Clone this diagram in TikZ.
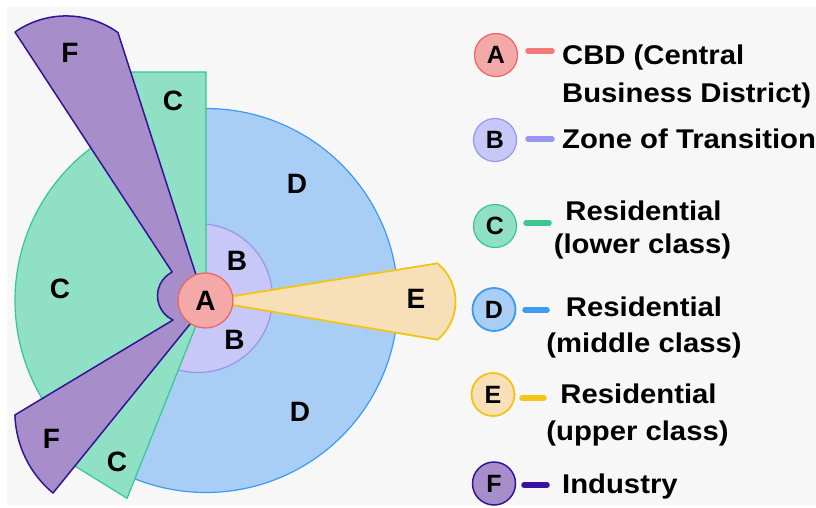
\documentclass[tikz,border=0pt]{standalone}
\usepackage{fontspec}
\setmainfont{Liberation Sans}
\newfontfamily\lgfont[FakeStretch=1.08]{Liberation Sans}
\usetikzlibrary{calc}
\definecolor{bgc}{RGB}{247,247,247}
\definecolor{Afill}{RGB}{245,168,168}
\definecolor{Adraw}{RGB}{238,98,98}
\definecolor{Bfill}{RGB}{200,200,248}
\definecolor{Bdraw}{RGB}{150,150,240}
\definecolor{Cfill}{RGB}{143,224,197}
\definecolor{Cdraw}{RGB}{52,200,145}
\definecolor{Dfill}{RGB}{168,206,246}
\definecolor{Ddraw}{RGB}{60,155,240}
\definecolor{Efill}{RGB}{247,224,184}
\definecolor{Edraw}{RGB}{245,195,20}
\definecolor{Ffill}{RGB}{167,142,202}
\definecolor{Fdraw}{RGB}{50,20,150}
\definecolor{dA}{RGB}{244,122,122}
\definecolor{dB}{RGB}{152,152,240}
\definecolor{dC}{RGB}{60,200,144}
\definecolor{dD}{RGB}{61,156,240}
\definecolor{dE}{RGB}{245,197,24}
\definecolor{dF}{RGB}{58,18,160}
\begin{document}
\begin{tikzpicture}[x=1pt,y=-1pt,
  zlab/.style={font=\fontsize{28}{28}\selectfont\bfseries, inner sep=0pt},
  lgtxt/.style={font=\lgfont\fontsize{27.1}{27.1}\selectfont\bfseries, inner sep=0pt},
  lgcirc/.style={circle, minimum size=43pt, inner sep=0pt, font=\fontsize{25}{25}\selectfont\bfseries, line width=1.2pt},
  dashline/.style={line width=5.5pt, line cap=round},
  zone/.style={line width=1.2pt, line join=round}]

\useasboundingbox (0,0) rectangle (816,507);
\fill[white] (0,0) rectangle (816,507);
\fill[bgc] (7,7) rectangle (816,505);

\coordinate (O) at (206,300.5);
\coordinate (OB) at (198,298);
\coordinate (OE) at (406,301.5);

% D : middle class
\fill[Dfill] (O) -- ($(O)+(-90:192)$) arc[start angle=-90,end angle=111.75,radius=192] -- cycle;
\draw[Ddraw, zone] ($(O)+(-90:192)$) arc[start angle=-90,end angle=111.75,radius=192];

% B : zone of transition
\fill[Bfill] (O) -- ($(OB)+(-83.84:74.5)$) arc[start angle=-83.84,end angle=105.5,radius=74.5] -- cycle;
\draw[Bdraw, zone] ($(OB)+(-83.84:74.5)$) arc[start angle=-83.84,end angle=105.5,radius=74.5];

% C : lower class
\filldraw[fill=Cfill, draw=Cdraw, zone] (O) -- (206,72) -- (110,72) -- ($(O)+(235:191)$)
  arc[start angle=235,end angle=140,radius=191] -- (70,463) -- ($(O)+(111.75:213)$) -- cycle;

% E : upper class
\filldraw[fill=Efill, draw=Edraw, line width=1.8pt, line join=round] (O) -- ($(OE)+(-50.5:49.5)$)
  arc[start angle=-50.5,end angle=50.5,radius=49.5] -- cycle;

% F : industry
\filldraw[fill=Ffill, draw=Fdraw, line width=1.5pt, line join=round]
  (15,32) arc[start angle=-124.9,end angle=-54.5,radius=89.3]
  -- (198.3,282) -- (195,318) -- (53,493)
  arc[start angle=129.6,end angle=178.4,radius=105.1]
  -- (173,320) arc[start angle=114.6,end angle=243.4,radius=26.6] -- cycle;

% A : CBD
\node[circle, minimum size=55pt, inner sep=0pt, fill=Afill, draw=Adraw, line width=1.2pt,
  font=\fontsize{28}{28}\selectfont\bfseries] (A) at (205.5,300.5) {A};

% zone labels
\node[zlab] (lF1) at (70,53) {F};
\node[zlab] (lC1) at (173,101) {C};
\node[zlab] (lD1) at (297,184) {D};
\node[zlab] (lB1) at (237,260.5) {B};
\node[zlab] (lB2) at (234.5,340) {B};
\node[zlab] (lE) at (416,299) {E};
\node[zlab] (lC2) at (60,288.5) {C};
\node[zlab] (lD2) at (300,412) {D};
\node[zlab] (lF2) at (51.5,439) {F};
\node[zlab] (lC3) at (117,462) {C};

% legend
\node[lgcirc, fill=Afill, draw=Adraw] (kA) at (496,55) {A};
\node[lgcirc, fill=Bfill, draw=Bdraw] (kB) at (495,140) {B};
\node[lgcirc, fill=Cfill, draw=Cdraw] (kC) at (495,226) {C};
\node[lgcirc, fill=Dfill, draw=Ddraw, line width=1.8pt] (kD) at (494,309.5) {D};
\node[lgcirc, fill=Efill, draw=Edraw, line width=1.8pt] (kE) at (493,394.5) {E};
\node[lgcirc, fill=Ffill, draw=Fdraw, line width=1.5pt] (kF) at (494,483.5) {F};

\coordinate (kA1) at (528,51);  \coordinate (kA2) at (552,51);
\coordinate (kB1) at (528,139); \coordinate (kB2) at (552,139);
\coordinate (kC1) at (526,223); \coordinate (kC2) at (549,223);
\coordinate (kD1) at (525,310); \coordinate (kD2) at (547,310);
\coordinate (kE1) at (522,398); \coordinate (kE2) at (544,398);
\coordinate (kF1) at (524,485); \coordinate (kF2) at (547,485);
\draw[dashline, dA] (kA1) -- (kA2);
\draw[dashline, dB] (kB1) -- (kB2);
\draw[dashline, dC] (kC1) -- (kC2);
\draw[dashline, dD] (kD1) -- (kD2);
\draw[dashline, dE] (kE1) -- (kE2);
\draw[dashline, dF] (kF1) -- (kF2);

\node[lgtxt, anchor=base west] (tA1) at (562,64) {CBD (Central};
\node[lgtxt, anchor=base west] (tA2) at (562,102) {Business District)};
\node[lgtxt, anchor=base west] (tB) at (562,148) {Zone of Transition};
\node[lgtxt, anchor=base] (tC1) at (643.5,220) {Residential};
\node[lgtxt, anchor=base] (tC2) at (642.5,253) {(lower class)};
\node[lgtxt, anchor=base] (tD1) at (644,316) {Residential};
\node[lgtxt, anchor=base] (tD2) at (644,352) {(middle class)};
\node[lgtxt, anchor=base] (tE1) at (638.5,403) {Residential};
\node[lgtxt, anchor=base] (tE2) at (637.5,440) {(upper class)};
\node[lgtxt, anchor=base west] (tF) at (562,493) {Industry};
\end{tikzpicture}
\end{document}
